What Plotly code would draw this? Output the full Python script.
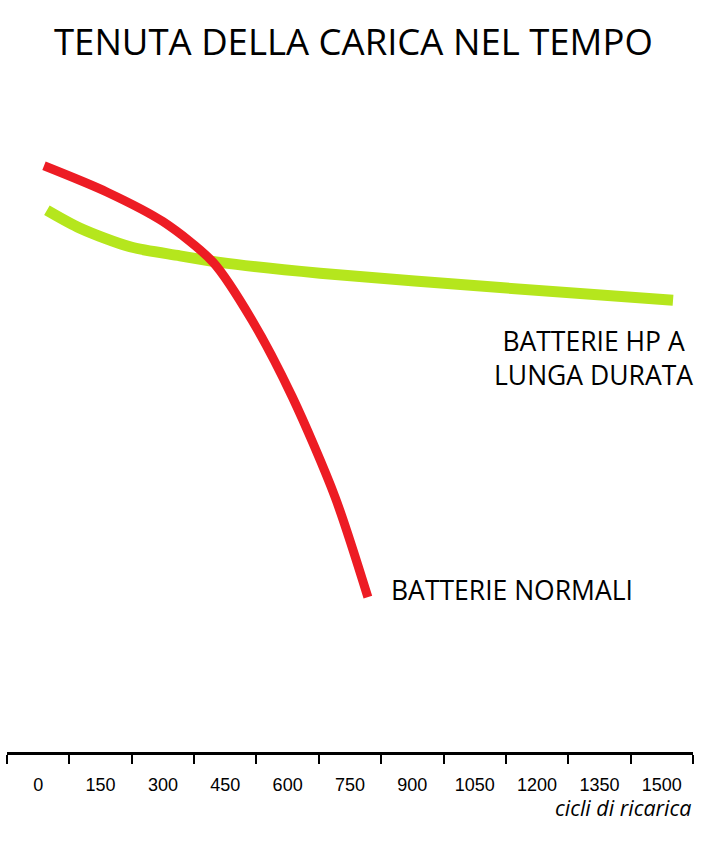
import plotly.graph_objects as go

# ---- data ----
cycles_normal = [14, 166, 300, 421, 514, 611, 714, 793]
charge_normal = [97.7, 93.3, 88.4, 81.6, 72.0, 59.2, 42.5, 25.8]

cycles_hp = [21, 101, 221, 341, 437, 678, 1111, 1527]
charge_hp = [90.3, 87.3, 84.2, 82.7, 81.6, 79.8, 77.4, 75.3]

tick_values = [0, 150, 300, 450, 600, 750, 900, 1050, 1200, 1350, 1500]
tick_labels = [str(v) for v in tick_values]
tick_bounds = [v - 75 for v in tick_values] + [1575]

RED = "#ED1C24"
GREEN = "#B5E61D"
TXT_FONT = "Open Sans"

fig = go.Figure()
fig.add_trace(go.Scatter(x=cycles_hp, y=charge_hp, mode="lines",
                         line=dict(color=GREEN, width=11, shape="spline", smoothing=0.8),
                         hoverinfo="skip", showlegend=False))
fig.add_trace(go.Scatter(x=cycles_normal, y=charge_normal, mode="lines",
                         line=dict(color=RED, width=9, shape="spline", smoothing=0.8),
                         hoverinfo="skip", showlegend=False))
# invisible trace on label axis
fig.add_trace(go.Scatter(x=[tick_values[0]], y=[0], xaxis="x2", mode="markers",
                         marker=dict(opacity=0), hoverinfo="skip", showlegend=False))

fig.update_layout(
    width=722, height=856,
    margin=dict(l=7, r=29, t=152, b=104),
    paper_bgcolor="white", plot_bgcolor="white",
    xaxis=dict(range=[-75, 1575], tickvals=tick_bounds, showticklabels=False,
               ticks="outside", ticklen=9, tickwidth=2, tickcolor="black",
               showline=True, linecolor="black", linewidth=3,
               showgrid=False, zeroline=False, fixedrange=True),
    xaxis2=dict(range=[-75, 1575], overlaying="x", side="bottom", anchor="y",
                tickvals=tick_values, ticktext=tick_labels,
                ticks="outside", ticklen=16, tickcolor="rgba(0,0,0,0)",
                tickfont=dict(family="Liberation Sans, Arial", size=18, color="black"),
                showline=False, showgrid=False, zeroline=False, fixedrange=True),
    yaxis=dict(range=[0, 100], visible=False, fixedrange=True),
    annotations=[
        dict(text="TENUTA DELLA CARICA NEL TEMPO", xref="paper", yref="paper",
             x=0.505, y=1.185, xanchor="center", yanchor="middle", showarrow=False,
             font=dict(family=TXT_FONT, size=36.5, color="black")),
        dict(text="BATTERIE HP A<br>LUNGA DURATA", xref="x", yref="y",
             x=1335, y=65.7, xanchor="center", yanchor="middle", align="center",
             showarrow=False, font=dict(family=TXT_FONT, size=26.5, color="black")),
        dict(text="BATTERIE NORMALI", xref="x", yref="y",
             x=844, y=27.0, xanchor="left", yanchor="middle", showarrow=False,
             font=dict(family=TXT_FONT, size=26.5, color="black")),
        dict(text="<i>cicli di ricarica</i>", xref="paper", yref="paper",
             x=1.0, y=-0.0933, xanchor="right", yanchor="middle", showarrow=False,
             font=dict(family=TXT_FONT, size=21.5, color="black")),
    ],
)

fig.write_html("out.html", config={"displayModeBar": False},
               post_script="document.body.style.margin='0';document.body.style.padding='0';")
